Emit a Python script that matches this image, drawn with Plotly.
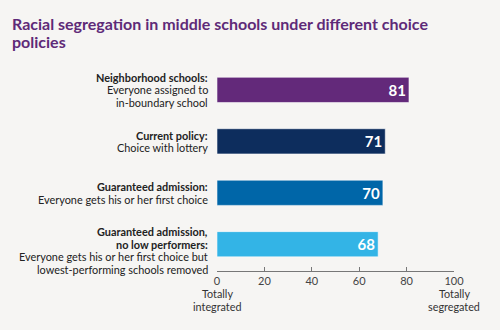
import plotly.graph_objects as go

# Segregation index by assignment policy (0 = totally integrated, 100 = totally segregated)
policy_titles = [
    ["Neighborhood schools:"],
    ["Current policy:"],
    ["Guaranteed admission:"],
    ["Guaranteed admission,", "no low performers:"],
]
policy_notes = [
    ["Everyone assigned to", "in-boundary school"],
    ["Choice with lottery"],
    ["Everyone gets his or her first choice"],
    ["Everyone gets his or her first choice but", "lowest-performing schools removed"],
]
segregation = [81, 71, 70, 68]
bar_colors = ["#63297a", "#0d2d5d", "#0066a8", "#33b4e6"]
tick_values = [0, 20, 40, 60, 80, 100]
end_labels = [["Totally", "integrated"], ["Totally", "segregated"]]
title_lines = ["Racial segregation in middle schools under different choice", "policies"]

FONT = "Lato"
BG = "#f6f5f3"
W, H = 500, 330
M = dict(l=217, r=46, t=59, b=59)


def paper_y(py):
    """Convert a pixel row (from the top) into paper coordinates."""
    return (H - M["b"] - py) / (H - M["t"] - M["b"])


def paper_x(px):
    """Convert a pixel column (from the left) into paper coordinates."""
    return (px - M["l"]) / (W - M["l"] - M["r"])


positions = list(range(len(segregation)))

fig = go.Figure()
fig.add_trace(go.Bar(
    x=segregation,
    y=positions,
    orientation="h",
    width=0.49,
    marker=dict(color=bar_colors, line=dict(color="rgba(255,255,255,0.55)", width=1)),
    text=[f"<b>{v}</b>" for v in segregation],
    textposition="inside",
    insidetextanchor="end",
    textfont=dict(family=FONT, size=15, color="white"),
    hoverinfo="skip",
))

# Category labels to the left of the bars, one annotation per line
LINE = 12.5
extra_drop = [0, 0, 0, 6.5]
for i, (titles, notes) in enumerate(zip(policy_titles, policy_notes)):
    lines = [f"<b>{t}</b>" for t in titles] + list(notes)
    n = len(lines)
    for k, txt in enumerate(lines):
        offset = (k - (n - 1) / 2) * LINE + extra_drop[i]
        fig.add_annotation(
            x=-0.03, xref="paper", xanchor="right",
            y=positions[i], yref="y", yanchor="middle", yshift=-offset,
            text=txt, align="right", showarrow=False,
            font=dict(family=FONT, size=10.9, color="#222222"),
        )

# Scale end descriptions under 0 and 100
for xv, pair in zip([tick_values[0], tick_values[-1]], end_labels):
    for py, txt in zip([293.5, 306], pair):
        fig.add_annotation(
            x=xv, xref="x", xanchor="center",
            y=paper_y(py), yref="paper", yanchor="middle",
            text=txt, showarrow=False,
            font=dict(family=FONT, size=10.8, color="#333333"),
        )

# Chart title
for py, txt in zip([23.5, 42], title_lines):
    fig.add_annotation(
        x=paper_x(10), xref="paper", xanchor="left",
        y=paper_y(py), yref="paper", yanchor="middle",
        text=f"<b>{txt}</b>", showarrow=False,
        font=dict(family=FONT, size=16, color="#5e2a78"),
    )

fig.update_layout(
    width=W, height=H,
    margin=M,
    paper_bgcolor=BG, plot_bgcolor=BG,
    showlegend=False,
    xaxis=dict(
        range=[0, 100], tickvals=tick_values,
        showgrid=False, zeroline=False,
        showline=True, linecolor="#777777", linewidth=1,
        ticks="inside", ticklen=4, tickcolor="#777777",
        tickfont=dict(family=FONT, size=11, color="#444444"),
        fixedrange=True,
    ),
    yaxis=dict(
        range=[3.52, -0.6], showticklabels=False,
        showgrid=False, zeroline=False, showline=False,
        fixedrange=True,
    ),
)

fig.write_html("out.html")
